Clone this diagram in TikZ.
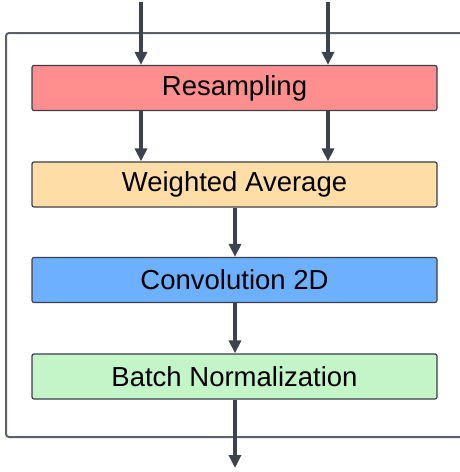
\documentclass[tikz,border=0pt]{standalone}
\usepackage{fontspec}
\setmainfont{Liberation Sans}
\usetikzlibrary{arrows.meta}
\definecolor{framegray}{HTML}{5C6169}
\definecolor{arrowgray}{HTML}{3D434D}
\definecolor{boxline}{HTML}{3A3F48}
\definecolor{cRes}{HTML}{FF8F8F}
\definecolor{cWav}{HTML}{FFDDA6}
\definecolor{cConv}{HTML}{6DB0FF}
\definecolor{cBn}{HTML}{C3F5C8}
\begin{document}
\begin{tikzpicture}[x=1pt,y=-1pt,
  blk/.style={draw=boxline,line width=1.2pt,rounded corners=2pt,minimum width=405pt,minimum height=45pt,inner sep=0pt,font=\fontsize{27.5}{31}\selectfont,text=black},
  flow/.style={draw=arrowgray,line width=3.2pt,-{Triangle[length=13pt,width=12pt]}}]
\useasboundingbox (0,0) rectangle (460,472);
\draw[framegray,line width=2pt,rounded corners=3pt] (462,33) -- (6,33) -- (6,437) -- (462,437);
\node[blk,fill=cRes] (res) at (234.5,88) {Resampling};
\node[blk,fill=cWav] (wav) at (234.5,184.5) {Weighted Average};
\node[blk,fill=cConv] (conv) at (234.5,280) {Convolution 2D};
\node[blk,fill=cBn] (bn) at (234.5,376.5) {Batch Normalization};
\coordinate (in1) at (141,2);
\coordinate (in2) at (328,2);
\coordinate (out) at (235,468);
\draw[flow] (in1) -- (in1 |- res.north);
\draw[flow] (in2) -- (in2 |- res.north);
\draw[flow] (in1 |- res.south) -- (in1 |- wav.north);
\draw[flow] (in2 |- res.south) -- (in2 |- wav.north);
\draw[flow] (wav.south -| out) -- (conv.north -| out);
\draw[flow] (conv.south -| out) -- (bn.north -| out);
\draw[flow] (bn.south -| out) -- (out);
\end{tikzpicture}
\end{document}
